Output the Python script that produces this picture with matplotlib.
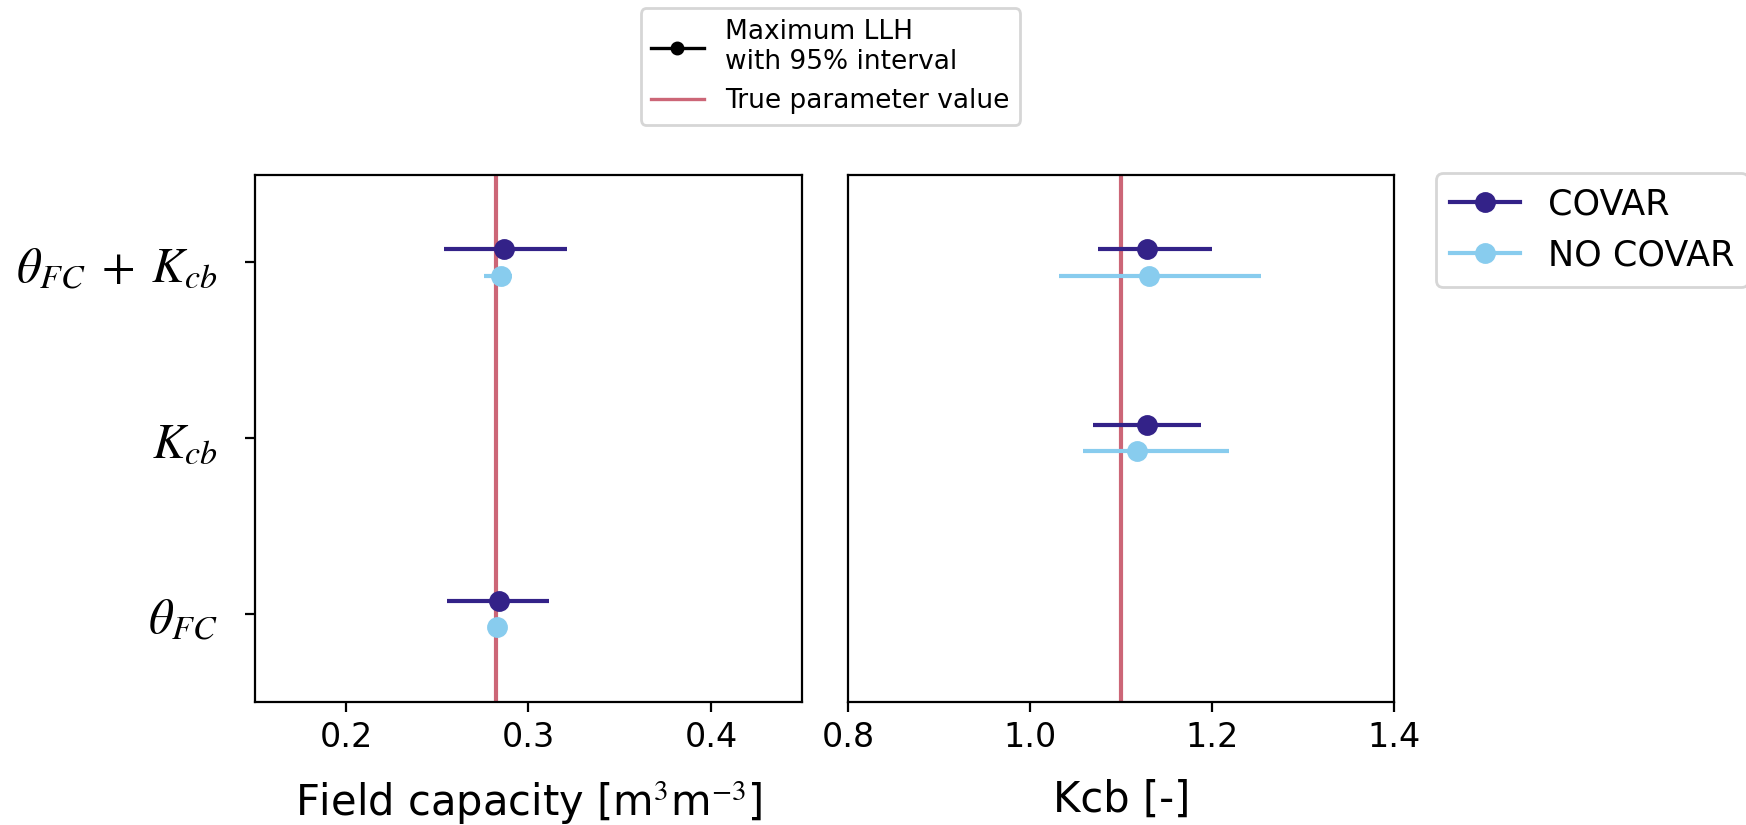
import matplotlib
matplotlib.use("Agg")
import matplotlib.pyplot as plt
from matplotlib.lines import Line2D
import numpy as np

# parameter sets that were calibrated (y positions 0, 1, 2)
labels = [r'$\theta_{FC}$', r'$K_{cb}$', r'$\theta_{FC}\;+\;K_{cb}$']
ypos = np.arange(len(labels))
offset = 0.075

# field capacity estimates (nan where the parameter was not calibrated)
fc_covar = [0.284, np.nan, 0.2865]
fc_covar_lo = [0.2553, np.nan, 0.2537]
fc_covar_hi = [0.3111, np.nan, 0.3211]
fc_nocovar = [0.2828, np.nan, 0.285]
fc_nocovar_lo = [0.2805, np.nan, 0.2759]
fc_nocovar_hi = [0.2851, np.nan, 0.2911]
fc_true = 0.2825

# Kcb estimates
kcb_covar = [np.nan, 1.128, 1.128]
kcb_covar_lo = [np.nan, 1.0686, 1.0745]
kcb_covar_hi = [np.nan, 1.188, 1.1996]
kcb_nocovar = [np.nan, 1.117, 1.131]
kcb_nocovar_lo = [np.nan, 1.058, 1.032]
kcb_nocovar_hi = [np.nan, 1.219, 1.254]
kcb_true = 1.1

c_covar = '#332288'
c_nocovar = '#88CCEE'
c_true = '#CC6677'

plt.rcParams['mathtext.fontset'] = 'stix'

fig = plt.figure(figsize=(8.73, 4.125), dpi=200)
ax1 = fig.add_axes([0.1459, 0.1495, 0.3135, 0.6388])
ax2 = fig.add_axes([0.4859, 0.1495, 0.3125, 0.6388])


def err(val, lo, hi):
    val = np.array(val)
    return [val - np.array(lo), np.array(hi) - val]


ax1.axvline(fc_true, color=c_true, lw=1.5, zorder=1)
ax1.errorbar(fc_covar, ypos + offset, xerr=err(fc_covar, fc_covar_lo, fc_covar_hi),
             fmt='o', color=c_covar, ms=6.5, lw=1.5, zorder=3)
ax1.errorbar(fc_nocovar, ypos - offset, xerr=err(fc_nocovar, fc_nocovar_lo, fc_nocovar_hi),
             fmt='o', color=c_nocovar, ms=6.5, lw=1.5, zorder=3)

ax2.axvline(kcb_true, color=c_true, lw=1.5, zorder=1)
ax2.errorbar(kcb_covar, ypos + offset, xerr=err(kcb_covar, kcb_covar_lo, kcb_covar_hi),
             fmt='o', color=c_covar, ms=6.5, lw=1.5, zorder=3)
ax2.errorbar(kcb_nocovar, ypos - offset, xerr=err(kcb_nocovar, kcb_nocovar_lo, kcb_nocovar_hi),
             fmt='o', color=c_nocovar, ms=6.5, lw=1.5, zorder=3)

ax1.set_xlim(0.15, 0.45)
ax1.set_xticks([0.2, 0.3, 0.4])
ax2.set_xlim(0.8, 1.4)
ax2.set_xticks([0.8, 1.0, 1.2, 1.4])
for ax in (ax1, ax2):
    ax.set_ylim(-0.5, 2.5)
    ax.tick_params(axis='x', labelsize=12)

ax1.set_yticks(ypos)
ax1.set_yticklabels(labels, fontsize=17.5)
ax1.tick_params(axis='y', pad=10)
ax2.set_yticks([])

ax1.set_xlabel(r'Field capacity [m$^3$m$^{-3}$]', fontsize=15, labelpad=9)
ax2.set_xlabel('Kcb [-]', fontsize=15, labelpad=9)

# legends
top_handles = [Line2D([], [], color='k', marker='o', ms=4, lw=1.2),
               Line2D([], [], color=c_true, lw=1.2)]
fig.legend(top_handles, ['Maximum LLH\nwith 95% interval', 'True parameter value'],
           loc='lower center', bbox_to_anchor=(0.4755, 0.849), borderaxespad=0,
           fontsize=9.5)
side_handles = [Line2D([], [], color=c_covar, marker='o', ms=6.5, lw=1.5),
                Line2D([], [], color=c_nocovar, marker='o', ms=6.5, lw=1.5)]
fig.legend(side_handles, ['COVAR', 'NO COVAR'], loc='upper left',
           bbox_to_anchor=(0.8224, 0.7903), borderaxespad=0, fontsize=12.6)

fig.savefig('out.png', dpi=200)
